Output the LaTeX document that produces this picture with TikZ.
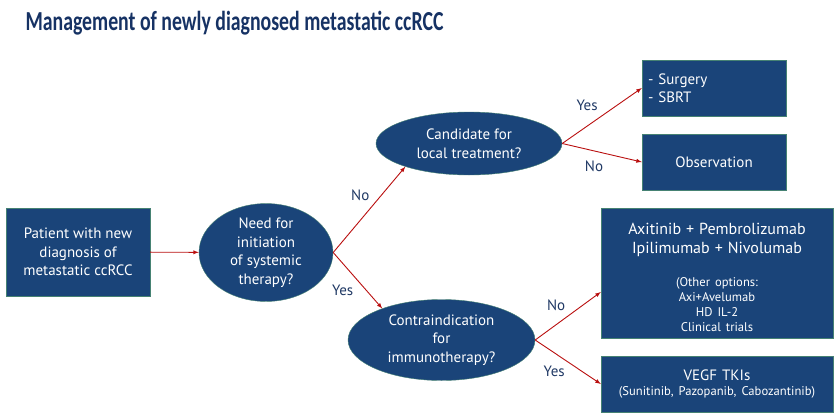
\documentclass[tikz,border=0pt]{standalone}
\usepackage{fontspec}
\setmainfont{PT Sans}
\newfontfamily\titlefont[FakeStretch=0.72]{Carlito}
\usetikzlibrary{arrows,shapes.geometric}

\definecolor{navyFill}{RGB}{26,68,121}
\definecolor{tealEdge}{RGB}{70,130,115}
\definecolor{titleBlue}{RGB}{22,50,100}
\definecolor{labelBlue}{RGB}{31,56,100}
\definecolor{arrowRed}{RGB}{185,15,15}

\newcommand{\bigtxt}{\fontsize{15}{18.5}\selectfont}
\newcommand{\drugtxt}{\fontsize{16}{18.5}\selectfont}
\newcommand{\smalltxt}{\fontsize{12.6}{14.8}\selectfont}

\begin{document}
\begin{tikzpicture}[>=latex, x=1pt, y=-1pt]
  \tikzstyle{decisionBox} = [draw=tealEdge, fill=navyFill, text=white, rectangle, thin, inner sep=0pt, align=center, font=\bigtxt]
  \tikzstyle{question} = [draw=tealEdge, fill=navyFill, text=white, ellipse, thin, inner sep=0pt, align=center, font=\bigtxt]

  \tikzstyle{flowEdge} = [arrowRed, line width=0.9pt, ->];
  \tikzstyle{edgeLabel} = [text=labelBlue, font=\bigtxt];

  \useasboundingbox (0,0) rectangle (838,418);

  \node[anchor=west, text=titleBlue, font={\titlefont\bfseries\fontsize{27.5}{30}\selectfont}] (title) at (22,23) {Management of newly diagnosed metastatic ccRCC};

  \node[decisionBox, minimum width=144pt, minimum height=88pt] (patient) at (78,252) {Patient with new\\diagnosis of\\metastatic ccRCC};
  \node[question, minimum width=134pt, minimum height=87pt] (need) at (266,252.5) {Need for\\initiation\\of systemic\\therapy?};
  \node[question, minimum width=186pt, minimum height=63pt] (local) at (469,143.5) {Candidate for\\local treatment?};
  \node[question, minimum width=187pt, minimum height=81pt] (contra) at (441.5,340) {Contraindication\\for\\immunotherapy?};

  \node[decisionBox, minimum height=56pt, text width=132pt, inner xsep=6pt, align=left] (surgery) at (714,88) {- Surgery\\- SBRT};
  \node[decisionBox, minimum width=144pt, minimum height=56pt] (observe) at (714,162) {Observation};
  \node[decisionBox, minimum height=130pt, text width=232pt] (immuno) at (717,273)
    {{\drugtxt\rule{0pt}{20pt}Axitinib + Pembrolizumab\\Ipilimumab + Nivolumab\par}\vspace{19pt}
     {\smalltxt (Other options:\\Axi+Avelumab\\HD IL-2\\Clinical trials\par}};
  \node[decisionBox, minimum height=56pt, text width=232pt] (vegf) at (717,384)
    {{\bigtxt VEGF TKIs\par}{\smalltxt (Sunitinib, Pazopanib, Cabozantinib)\par}};

  \path (patient) edge[flowEdge] (need)
        (need.east) edge[flowEdge] node[edgeLabel, pos=0.5, xshift=-9pt, yshift=14pt] {No} (local.200)
        (need.east) edge[flowEdge] node[edgeLabel, pos=0.5, xshift=-15pt, yshift=-10pt] {Yes} (contra.152)
        (local.east) edge[flowEdge] node[edgeLabel, pos=0.4, xshift=-7pt, yshift=16pt] {Yes} (surgery.west)
        (local.east) edge[flowEdge] node[edgeLabel, pos=0.4, xshift=0pt, yshift=-15pt] {No} (observe.west)
        (contra.east) edge[flowEdge] node[edgeLabel, pos=0.35, xshift=-2pt, yshift=18pt] {No} ([yshift=-19pt]immuno.west)
        (contra.east) edge[flowEdge] node[edgeLabel, pos=0.35, xshift=-4pt, yshift=-16pt] {Yes} (vegf.west);
\end{tikzpicture}
\end{document}
